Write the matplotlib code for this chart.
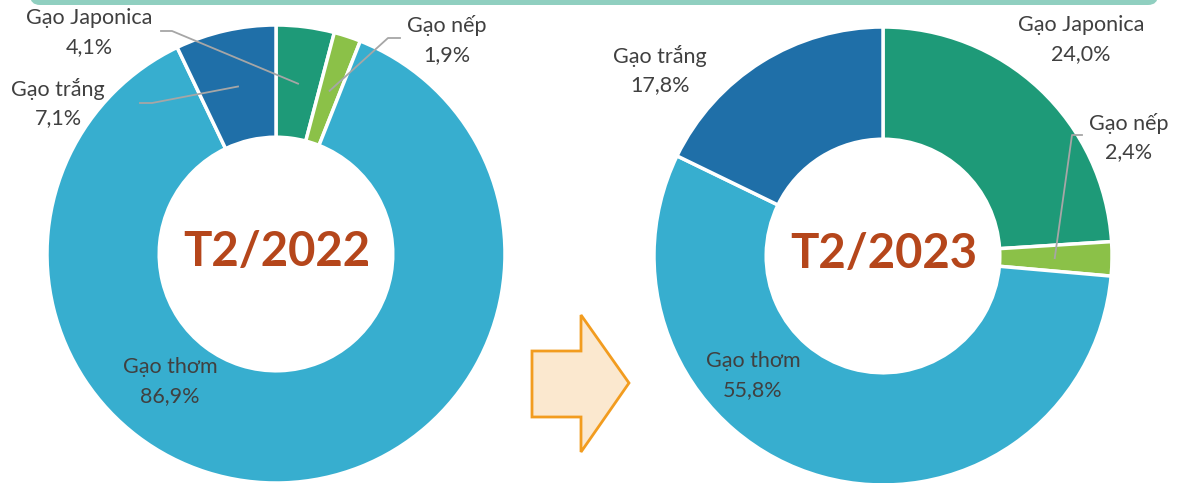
import numpy as np
import matplotlib
matplotlib.use("Agg")
import matplotlib.pyplot as plt
from matplotlib.patches import FancyBboxPatch, Polygon

plt.rcParams['font.family'] = ['Lato', 'DejaVu Sans']

# ---- data ----
categories = ["Gạo Japonica", "Gạo nếp", "Gạo thơm", "Gạo trắng"]
values_2022 = [4.1, 1.9, 86.9, 7.1]
values_2023 = [24.0, 2.4, 55.8, 17.8]
titles = ["T2/2022", "T2/2023"]
colors = ["#1e9a78", "#8bc148", "#37aecf", "#1f6fa8"]

W, H = 1178, 483
DPI = 100
fig = plt.figure(figsize=(W / DPI, H / DPI), dpi=DPI)

R = 229
centers = [(276, 254), (883, 256)]
hole = 0.51


def fmt(v):
    return f"{v:.1f}%".replace(".", ",")


pie_axes = []
for (cx, cy), vals in zip(centers, [values_2022, values_2023]):
    pax = fig.add_axes([(cx - R) / W, (H - cy - R) / H, 2 * R / W, 2 * R / H])
    pax.pie(vals, colors=colors, startangle=90, counterclock=False,
            wedgeprops=dict(width=1 - hole, edgecolor="white", linewidth=2.5))
    pax.set_xlim(-1, 1)
    pax.set_ylim(-1, 1)
    pax.set_aspect("equal")
    pax.axis("off")
    pie_axes.append(pax)

# overlay in pixel coordinates
ax = fig.add_axes([0, 0, 1, 1])
ax.set_xlim(0, W)
ax.set_ylim(H, 0)
ax.axis("off")
ax.patch.set_alpha(0)

# top banner strip
ax.add_patch(FancyBboxPatch((30, -30), 1128, 35, boxstyle="round,pad=0,rounding_size=10",
                            fc="#90cfc0", ec="none"))

# arrow
ax.add_patch(Polygon([(532, 351), (581, 351), (581, 315), (629, 383),
                      (581, 452), (581, 417), (532, 417)], closed=True,
                     fc="#fbe8cf", ec="#f29c1f", lw=2))

txt = "#404040"
fs = 15.5


def mid_point(vals, idx, center, frac=0.75):
    cum = np.cumsum([0] + list(vals))
    mid = (cum[idx] + cum[idx + 1]) / 2 / sum(vals)
    ang = np.deg2rad(90 - 360 * mid)
    return center[0] + frac * R * np.cos(ang), center[1] - frac * R * np.sin(ang)


def label(x, y, name, val):
    ax.text(x, y, name, ha="center", va="center", fontsize=fs, color=txt)
    ax.text(x, y + 29, fmt(val), ha="center", va="center", fontsize=fs, color=txt)


lc = "#a6a6a6"
# left donut labels
label(89, 18, categories[0], values_2022[0])
ex, ey = mid_point(values_2022, 0, centers[0])
ax.plot([161, 172, ex], [31, 31, ey], color=lc, lw=1.3)

label(447, 26, categories[1], values_2022[1])
ex, ey = mid_point(values_2022, 1, centers[0])
ax.plot([400, 388, ex], [38, 38, ey], color=lc, lw=1.3)

label(58, 89, categories[3], values_2022[3])
ex, ey = mid_point(values_2022, 3, centers[0])
ax.plot([140, 152, ex], [103, 103, ey], color=lc, lw=1.3)

label(170, 367, categories[2], values_2022[2])

# right donut labels
label(1081, 25, categories[0], values_2023[0])
label(1129, 123, categories[1], values_2023[1])
ex, ey = mid_point(values_2023, 1, centers[1])
ax.plot([1082, 1072, ex], [135, 135, ey], color=lc, lw=1.3)
label(660, 56, categories[3], values_2023[3])
label(753, 361, categories[2], values_2023[2])

# centre titles
for (cx, cy), t in zip(centers, titles):
    ax.text(cx + 1, cy - 2, t, ha="center", va="center", fontsize=34,
            fontweight="bold", color="#b5461b")

fig.savefig("out.png", dpi=DPI)
